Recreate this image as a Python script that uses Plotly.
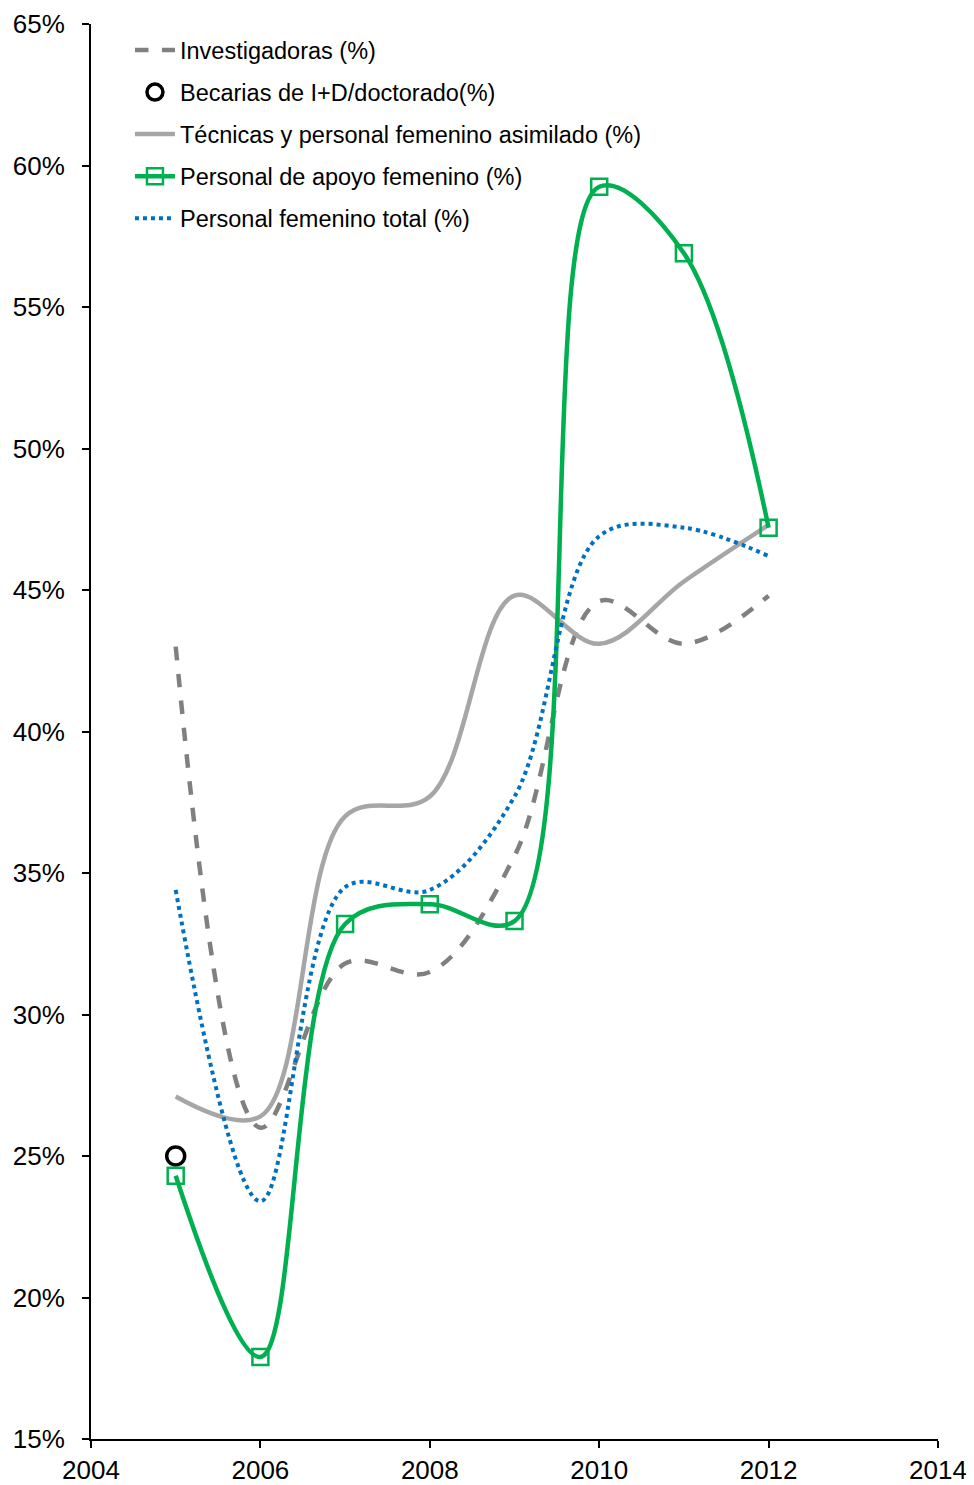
import plotly.graph_objects as go

years = [2005, 2006, 2007, 2008, 2009, 2010, 2011, 2012]

investigadoras = [43.0, 26.0, 31.8, 31.5, 35.6, 44.6, 43.1, 44.8]
becarias_year = [2005]
becarias = [25.0]
tecnicas = [27.1, 26.4, 37.0, 37.7, 44.8, 43.1, 45.3, 47.3]
apoyo = [24.3, 17.9, 33.2, 33.9, 33.3, 59.25, 56.9, 47.2]
total = [34.4, 23.4, 34.5, 34.4, 37.7, 46.9, 47.2, 46.2]

font = "Liberation Sans, Arial, Helvetica, sans-serif"
smooth = 1.0

fig = go.Figure()

fig.add_trace(go.Scatter(
    x=years, y=investigadoras, mode="lines", name="Investigadoras (%)", legendgroup="a",
    line=dict(color="#808080", width=4.5, dash="dash", shape="spline", smoothing=smooth)))

fig.add_trace(go.Scatter(
    x=becarias_year, y=becarias, mode="markers", name="Becarias de I+D/doctorado(%)", legendgroup="b",
    marker=dict(symbol="circle-open", size=18, color="black", line=dict(width=3.5, color="black"))))

fig.add_trace(go.Scatter(
    x=years, y=tecnicas, mode="lines", name="Técnicas y personal femenino asimilado (%)", legendgroup="c",
    line=dict(color="#A6A6A6", width=4.5, shape="spline", smoothing=smooth)))

fig.add_trace(go.Scatter(
    x=years, y=apoyo, mode="lines+markers", name="Personal de apoyo femenino (%)", legendgroup="d",
    line=dict(color="#00B050", width=4.5, shape="spline", smoothing=smooth),
    marker=dict(symbol="square-open", size=16, color="#00B050", line=dict(width=2.5, color="#00B050"))))

fig.add_trace(go.Scatter(
    x=years, y=total, mode="lines", name="Personal femenino total (%)", legendgroup="e",
    line=dict(color="#0070C0", width=4, dash="dot", shape="spline", smoothing=smooth)))

# page body has an 8px margin, so the figure is 8px smaller and offset
fig.update_layout(
    width=966, height=1477,
    margin=dict(l=83, r=36, t=16, b=46, autoexpand=False),
    plot_bgcolor="white", paper_bgcolor="white",
    font=dict(family=font, size=22, color="black"),
    showlegend=True,
    legend=dict(x=0.046, y=0.997, xanchor="left", yanchor="top",
                bgcolor="rgba(0,0,0,0)", font=dict(size=23.5), tracegroupgap=8.5,
                itemwidth=40),
)

fig.update_xaxes(range=[2004, 2014], tickvals=[2004, 2006, 2008, 2010, 2012, 2014],
                 showline=True, linecolor="black", linewidth=2, showgrid=False,
                 zeroline=False, ticks="outside", ticklen=7, tickcolor="black",
                 tickwidth=2, tickfont=dict(size=26), automargin=False,
                 ticklabelstandoff=0)

fig.update_yaxes(range=[15, 65], tickvals=[15, 20, 25, 30, 35, 40, 45, 50, 55, 60, 65],
                 ticktext=[f"{v}%" for v in range(15, 70, 5)],
                 showline=True, linecolor="black", linewidth=2, showgrid=False,
                 zeroline=False, ticks="outside", ticklen=7, tickcolor="black",
                 tickwidth=2, tickfont=dict(size=26), automargin=False,
                 ticklabelstandoff=12)

fig.write_html("out.html")
